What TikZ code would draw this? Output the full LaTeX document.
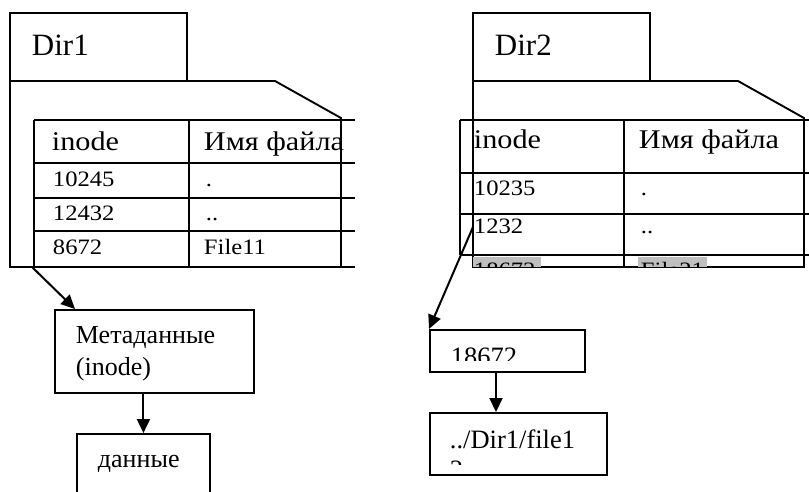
\documentclass[tikz,border=0pt]{standalone}
\usepackage{fontspec}
\setmainfont{Liberation Serif}
\newfontfamily\widefont[FakeStretch=1.12]{Liberation Serif}
\usetikzlibrary{arrows.meta}

\begin{document}
\begin{tikzpicture}[x=1pt,y=-1pt, line width=1.9pt, line join=miter,
  txt/.style={inner sep=0pt, anchor=base west},
  titletxt/.style={txt, font=\fontsize{31}{31}\selectfont},
  headtxt/.style={txt, font=\widefont\fontsize{27}{27}\selectfont},
  celltxt/.style={txt, font=\widefont\fontsize{22}{22}\selectfont},
  labeltxt/.style={txt, font=\fontsize{26}{26}\selectfont},
  pathtxt/.style={txt, font=\fontsize{26.5}{26.5}\selectfont},
  boxnode/.style={draw, rectangle, inner sep=0pt, anchor=north west},
  link/.style={-{Triangle[length=14pt,width=13pt]}, line width=2pt}]

\useasboundingbox (0,0) rectangle (809,491);
\clip (0,0) rectangle (809,491);

% ---------- directory Dir1 ----------
\draw (10,13) rectangle (187,81);
\node[titletxt] (dir1) at (31,55) {Dir1};
\draw (10,81) -- (275,81) -- (341,118) -- (341,267) -- (10,267) -- cycle;
% table of Dir1
\foreach \y in {120,163,198,231,267} \draw (34,\y) -- (355,\y);
\draw (34,120) -- (34,267);
\draw (189,120) -- (189,267);
\node[headtxt] (h1a) at (51,150) {inode};
\node[headtxt] (h1b) at (203,150) {Имя файла};
\node[celltxt] (r1a) at (52,186) {10245};
\node[celltxt] (r1b) at (205,186) {.};
\node[celltxt] (r2a) at (52,220) {12432};
\node[celltxt] (r2b) at (205,220) {..};
\node[celltxt] (r3a) at (52,254) {8672};
\node[celltxt] (r3b) at (203,254) {File11};

% ---------- directory Dir2 ----------
\draw (473,13) rectangle (650,81);
\node[titletxt] (dir2) at (494,55) {Dir2};
\draw (473,81) -- (738,81) -- (804,118) -- (804,267) -- (473,267) -- cycle;
% table of Dir2
\begin{scope}
  \clip (460,255) rectangle (809,267);
  \fill[black!25] (473,257) rectangle (541,267);
  \fill[black!25] (638,257) rectangle (707,267);
  \node[celltxt] (s4a) at (473,277) {18672};
  \node[celltxt] (s4b) at (640,277) {File21};
\end{scope}
\foreach \y in {120,173,214,255} \draw (460,\y) -- (809,\y);
\draw (460,120) -- (460,255);
\draw (624,120) -- (624,267);
\node[headtxt] (h2a) at (473,148) {inode};
\node[headtxt] (h2b) at (638,148) {Имя файла};
\node[celltxt] (s1a) at (473,195) {10235};
\node[celltxt] (s1b) at (640,195) {.};
\node[celltxt] (s2a) at (473,233) {1232};
\node[celltxt] (s2b) at (640,233) {..};

% ---------- inode and data of File11 ----------
\node[boxnode, minimum width=199pt, minimum height=83pt] (meta) at (54,309) {};
\node[labeltxt] (metaA) at (75,343) {Метаданные};
\node[labeltxt] (metaB) at (75,375) {(inode)};
\node[boxnode, minimum width=133pt, minimum height=70pt] (data) at (76,433) {};
\node[labeltxt] (dataT) at (97,467) {данные};

% ---------- inode and path of File21 ----------
\node[boxnode, minimum width=155pt, minimum height=42pt] (ibox) at (429,329) {};
\node[boxnode, minimum width=177pt, minimum height=62pt] (pbox) at (429,412) {};
\begin{scope}
  \clip (429,329) rectangle (584,360);
  \node[pathtxt] (inum) at (450,365) {18672};
\end{scope}
\begin{scope}
  \clip (429,412) rectangle (606,464);
  \node[pathtxt] (ptxt) at (449,448) {../Dir1/file1};
  \node[pathtxt] (ptxt2) at (449,478) {2};
\end{scope}

% ---------- links ----------
\coordinate (from1) at (32,267);
\coordinate (to1) at (75,309);
\coordinate (from2) at (473,227);
\draw[link] (from1) -- (to1);
\draw[link] (from2) -- (ibox.north west);
\draw[link] (data.north |- meta.south) -- (data.north);
\coordinate (d2) at (496,0);
\draw[link] (d2 |- ibox.south) -- (d2 |- pbox.north);
\end{tikzpicture}
\end{document}
